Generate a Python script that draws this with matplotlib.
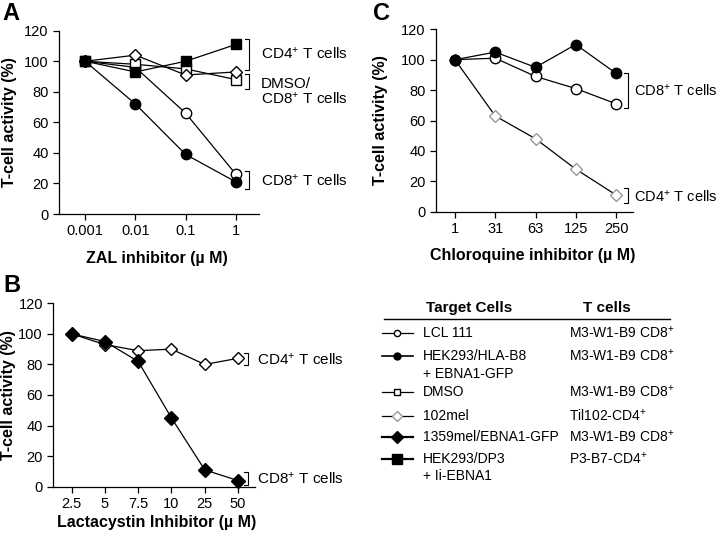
import matplotlib
matplotlib.use('Agg')
import matplotlib.pyplot as plt
from matplotlib.lines import Line2D

plt.rcParams['font.family'] = ['Liberation Sans', 'DejaVu Sans']
plt.rcParams['mathtext.fontset'] = 'custom'
plt.rcParams['mathtext.rm'] = 'Liberation Sans'
plt.rcParams['mathtext.it'] = 'Liberation Sans'
plt.rcParams['mathtext.bf'] = 'Liberation Sans:bold'

# panel A: ZAL inhibitor
zal_doses = ['0.001', '0.01', '0.1', '1']
zal_lcl111 = [100, 96, 66, 26]
zal_hek_b8 = [100, 72, 39, 21]
zal_dmso = [100, 98, 95, 88]
zal_102mel = [100, 104, 91, 93]
zal_dp3 = [100, 93, 100, 111]

# panel B: lactacystin
lacta_doses = ['2.5', '5', '7.5', '10', '25', '50']
lacta_1359mel = [100, 95, 82, 45, 11, 4]
lacta_102mel = [100, 93, 89, 90, 80, 84]

# panel C: chloroquine
chloro_doses = ['1', '31', '63', '125', '250']
chloro_hek_b8 = [100, 105, 95, 110, 91]
chloro_lcl111 = [100, 101, 89, 81, 71]
chloro_102mel = [100, 63, 48, 28, 11]

yticks = [0, 20, 40, 60, 80, 100, 120]
CD4 = 'CD4$^{+}$ T cells'
CD8 = 'CD8$^{+}$ T cells'

S = dict(
    lcl=dict(marker='o', mfc='white', mec='black', ms=7.5),
    b8=dict(marker='o', mfc='black', mec='black', ms=7.5),
    dmso=dict(marker='s', mfc='white', mec='black', ms=6.5),
    mel=dict(marker='D', mfc='white', mec='black', ms=6.5),
    mel_grey=dict(marker='D', mfc='white', mec='#9a9a9a', ms=6.5),
    m1359=dict(marker='D', mfc='black', mec='black', ms=7),
    dp3=dict(marker='s', mfc='black', mec='black', ms=6.5),
)

fig = plt.figure(figsize=(7.2, 5.38), dpi=100)


def style(ax, cats, xlim, xlabel, lx, ly, lxx=0.49):
    for s in ('top', 'right'):
        ax.spines[s].set_visible(False)
    for s in ('left', 'bottom'):
        ax.spines[s].set_linewidth(0.9)
    ax.set_ylim(0, 120)
    ax.set_yticks(yticks)
    ax.set_xticks(range(len(cats)))
    ax.set_xticklabels(cats)
    ax.set_xlim(*xlim)
    ax.tick_params(labelsize=10.5, length=4, width=0.9, direction='out')
    ax.set_ylabel('T-cell activity (%)', fontsize=11.5, fontweight='bold')
    ax.set_xlabel(xlabel, fontsize=11.5, fontweight='bold')
    ax.yaxis.set_label_coords(lx, 0.5)
    ax.xaxis.set_label_coords(lxx, ly)


def bracket(ax, x, y0, y1, w):
    ax.plot([x - w, x, x, x - w], [y0, y0, y1, y1], color='black', lw=0.8, clip_on=False)


def line(ax, y, key):
    ax.plot(range(len(y)), y, color='black', lw=0.9, clip_on=False, zorder=3, **S[key])


# ---- A ----
axA = fig.add_axes([59 / 720, 1 - 214 / 538, 200 / 720, 183.3 / 538])
line(axA, zal_lcl111, 'lcl')
line(axA, zal_hek_b8, 'b8')
line(axA, zal_dmso, 'dmso')
line(axA, zal_102mel, 'mel')
line(axA, zal_dp3, 'dp3')
style(axA, zal_doses, (-0.52, 3.46), 'ZAL inhibitor (\u00b5 M)', -0.21, -0.2)
bracket(axA, 3.27, 94, 114.5, 0.09)
bracket(axA, 3.27, 82, 91.5, 0.09)
bracket(axA, 3.27, 16.5, 28, 0.09)
axA.text(3.5, 105, CD4, fontsize=11, va='center', clip_on=False)
axA.text(3.5, 80, 'DMSO/\n' + CD8, fontsize=11, va='center', clip_on=False, linespacing=1.0)
axA.text(3.5, 22, CD8, fontsize=11, va='center', clip_on=False)

# ---- B ----
axB = fig.add_axes([53.3 / 720, 1 - 486.7 / 538, 201.7 / 720, 183.4 / 538])
line(axB, lacta_102mel, 'mel')
line(axB, lacta_1359mel, 'm1359')
style(axB, lacta_doses, (-0.55, 5.51), 'Lactacystin Inhibitor (\u00b5 M)', -0.185, -0.155, 0.51)
bracket(axB, 5.3, 79.6, 87.5, 0.12)
bracket(axB, 5.3, 1.1, 9.8, 0.12)
axB.text(5.57, 83, CD4, fontsize=11, va='center', clip_on=False)
axB.text(5.57, 5, CD8, fontsize=11, va='center', clip_on=False)

# ---- C ----
axC = fig.add_axes([436 / 720, 1 - 211.7 / 538, 197 / 720, 182.4 / 538])
line(axC, chloro_102mel, 'mel_grey')
line(axC, chloro_lcl111, 'lcl')
line(axC, chloro_hek_b8, 'b8')
style(axC, chloro_doses, (-0.47, 4.42), 'Chloroquine inhibitor (\u00b5 M)', -0.244, -0.2)
bracket(axC, 4.29, 68.4, 91, 0.1)
bracket(axC, 4.29, 5.9, 15.6, 0.1)
axC.text(4.45, 80, CD8, fontsize=10.5, va='center', clip_on=False)
axC.text(4.45, 10, CD4, fontsize=10.5, va='center', clip_on=False)

# panel letters
for x, y, t in [(2, 20, 'A'), (3, 292, 'B'), (373, 20, 'C')]:
    fig.text(x / 720, 1 - y / 538, t, fontsize=17, fontweight='bold', va='baseline')

# ---- legend table ----
leg = fig.add_axes([0, 0, 1, 1], zorder=-1)
leg.set_xlim(0, 720)
leg.set_ylim(538, 0)
leg.axis('off')
leg.text(469, 308, 'Target Cells', fontsize=11, fontweight='bold', ha='center', va='center')
leg.text(607, 308, 'T cells', fontsize=11, fontweight='bold', ha='center', va='center')
leg.plot([384, 670], [319, 319], color='black', lw=1.0)

rows = [
    ('lcl', ['LCL 111'], 'M3-W1-B9 CD8$^{+}$', 333, 0.9, 4.5),
    ('b8', ['HEK293/HLA-B8', '+ EBNA1-GFP'], 'M3-W1-B9 CD8$^{+}$', 356, 1.2, 5),
    ('dmso', ['DMSO'], 'M3-W1-B9 CD8$^{+}$', 392, 0.9, 4.5),
    ('mel_grey', ['102mel'], 'Til102-CD4$^{+}$', 416, 0.9, 5),
    ('m1359', ['1359mel/EBNA1-GFP'], 'M3-W1-B9 CD8$^{+}$', 437, 1.6, 6.5),
    ('dp3', ['HEK293/DP3', '+ Ii-EBNA1'], 'P3-B7-CD4$^{+}$', 459, 1.6, 6.5),
]
for key, names, tc, y, lw, ms in rows:
    st = dict(S[key])
    st['ms'] = ms
    leg.add_line(Line2D([382, 413], [y, y], color='black', lw=lw))
    leg.add_line(Line2D([397], [y], lw=0, **st))
    for i, name in enumerate(names):
        leg.text(423, y + 17.5 * i, name, fontsize=10, va='center')
    leg.text(569, y, tc, fontsize=10, va='center')

fig.savefig('out.png', dpi=100)
